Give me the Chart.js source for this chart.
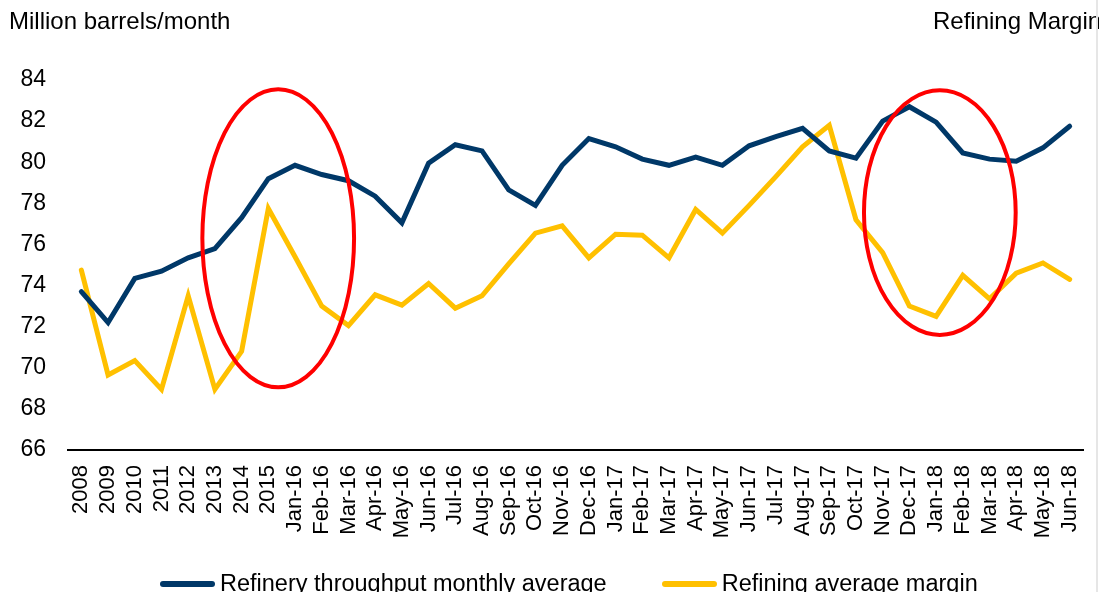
<!DOCTYPE html>
<html>
<head>
<meta charset="utf-8">
<script src="https://cdn.jsdelivr.net/npm/chart.js@4.4.1/dist/chart.umd.min.js"></script>
<style>
  html,body{margin:0;padding:0;background:#fff;}
  #wrap{position:relative;width:1099px;height:592px;overflow:hidden;font-family:"Liberation Sans",Arial,sans-serif;color:#000;}
  #chart{position:absolute;left:0;top:0;}
  .ttl{position:absolute;font-size:24px;white-space:nowrap;line-height:1;}
  #legend{position:absolute;left:160px;top:572px;display:flex;align-items:center;font-size:23.5px;line-height:1;white-space:nowrap;}
  .lg-item{display:flex;align-items:center;}
  .lg-line{width:55px;height:6px;border-radius:3px;margin-right:5px;}
  #edge{position:absolute;left:1096px;top:0;width:2px;height:592px;background:#e6e6e6;}
</style>
</head>
<body>
<div id="wrap">
  <canvas id="chart" width="1099" height="592"></canvas>
  <div class="ttl" style="left:9px;top:9px;">Million barrels/month</div>
  <div class="ttl" style="left:933px;top:9px;">Refining Margin</div>
  <div id="legend"></div>
  <div id="edge"></div>
</div>
<script>
// categories
const labels = ['2008','2009','2010','2011','2012','2013','2014','2015',
  'Jan-16','Feb-16','Mar-16','Apr-16','May-16','Jun-16','Jul-16','Aug-16','Sep-16','Oct-16','Nov-16','Dec-16',
  'Jan-17','Feb-17','Mar-17','Apr-17','May-17','Jun-17','Jul-17','Aug-17','Sep-17','Oct-17','Nov-17','Dec-17',
  'Jan-18','Feb-18','Mar-18','Apr-18','May-18','Jun-18'];

// refinery throughput, million barrels/month
const throughput = [73.7,72.2,74.35,74.7,75.35,75.8,77.3,79.2,
  79.85,79.4,79.1,78.35,77.05,79.95,80.85,80.55,78.65,77.9,79.85,81.15,
  80.75,80.15,79.85,80.25,79.85,80.8,81.25,81.65,80.55,80.2,82.0,82.7,
  81.95,80.45,80.15,80.05,80.7,81.75];

// refining average margin (plotted against hidden right axis)
const margin = [74.75,69.65,70.35,68.95,73.5,68.95,70.8,77.75,
  75.4,73.0,72.05,73.55,73.05,74.1,72.9,73.5,75.05,76.55,76.9,75.35,
  76.5,76.45,75.35,77.7,76.55,77.9,79.3,80.75,81.8,77.2,75.6,73.0,
  72.5,74.5,73.35,74.6,75.1,74.3];

const yTicks = [66,68,70,72,74,76,78,80,82,84];

// highlight ellipses: centre (category index, value) and radii (categories, value units)
const highlights = [
  {cx:7.37, cy:76.3, rx:2.84, ry:7.25},
  {cx:32.14, cy:77.55, rx:2.84, ry:5.95}
];

const BLUE='#003868', GOLD='#FFC000', RED='#FF0000';
const FONT='"Liberation Sans", Arial, sans-serif';

const ellipsePlugin={
  id:'ellipses',
  afterDatasetsDraw(chart){
    const {ctx,scales:{x,y}}=chart;
    ctx.save();
    ctx.strokeStyle=RED; ctx.lineWidth=4;
    highlights.forEach(h=>{
      const cx=x.getPixelForValue(h.cx), cy=y.getPixelForValue(h.cy);
      const rx=x.getPixelForValue(h.cx+h.rx)-cx;
      const ry=y.getPixelForValue(h.cy-h.ry)-cy;
      ctx.beginPath();
      ctx.ellipse(cx,cy,rx,ry,0,0,Math.PI*2);
      ctx.stroke();
    });
    ctx.restore();
  }
};

const chart=new Chart(document.getElementById('chart'),{
  type:'line',
  data:{labels,datasets:[
    {label:'Refinery throughput monthly average',data:throughput,borderColor:BLUE,backgroundColor:BLUE,yAxisID:'y'},
    {label:'Refining average margin',data:margin,borderColor:GOLD,backgroundColor:GOLD,yAxisID:'y2'}
  ]},
  options:{
    responsive:false,animation:false,
    layout:{padding:{top:80,right:16,left:0,bottom:0}},
    elements:{line:{borderWidth:5,tension:0,borderCapStyle:'round',borderJoinStyle:'miter'},point:{radius:0}},
    plugins:{legend:{display:false},tooltip:{enabled:false}},
    scales:{
      x:{offset:true,
        grid:{display:true,drawOnChartArea:false,drawTicks:false},
        border:{display:true,color:'#000',width:2},
        ticks:{autoSkip:false,maxRotation:90,minRotation:90,padding:15,color:'#000',font:{family:FONT,size:22}},
        afterFit:s=>{s.height=142;s.paddingLeft=0;s.paddingRight=0;}
      },
      y:{min:66,max:84,
        afterBuildTicks:s=>{s.ticks=yTicks.map(v=>({value:v}));},
        grid:{display:false,drawTicks:false},border:{display:false},
        ticks:{padding:22,color:'#000',font:{family:FONT,size:23}},
        afterFit:s=>{s.width=68;}
      },
      y2:{position:'right',min:66,max:84,display:false}
    }
  },
  plugins:[ellipsePlugin]
});

// legend
document.getElementById('legend').innerHTML=chart.data.datasets.map((d,i)=>`
  <div class="lg-item" style="${i?'margin-left:55px;':''}">
    <div class="lg-line" style="background:${d.borderColor};"></div><span>${d.label}</span>
  </div>`).join('');
</script>
</body>
</html>
